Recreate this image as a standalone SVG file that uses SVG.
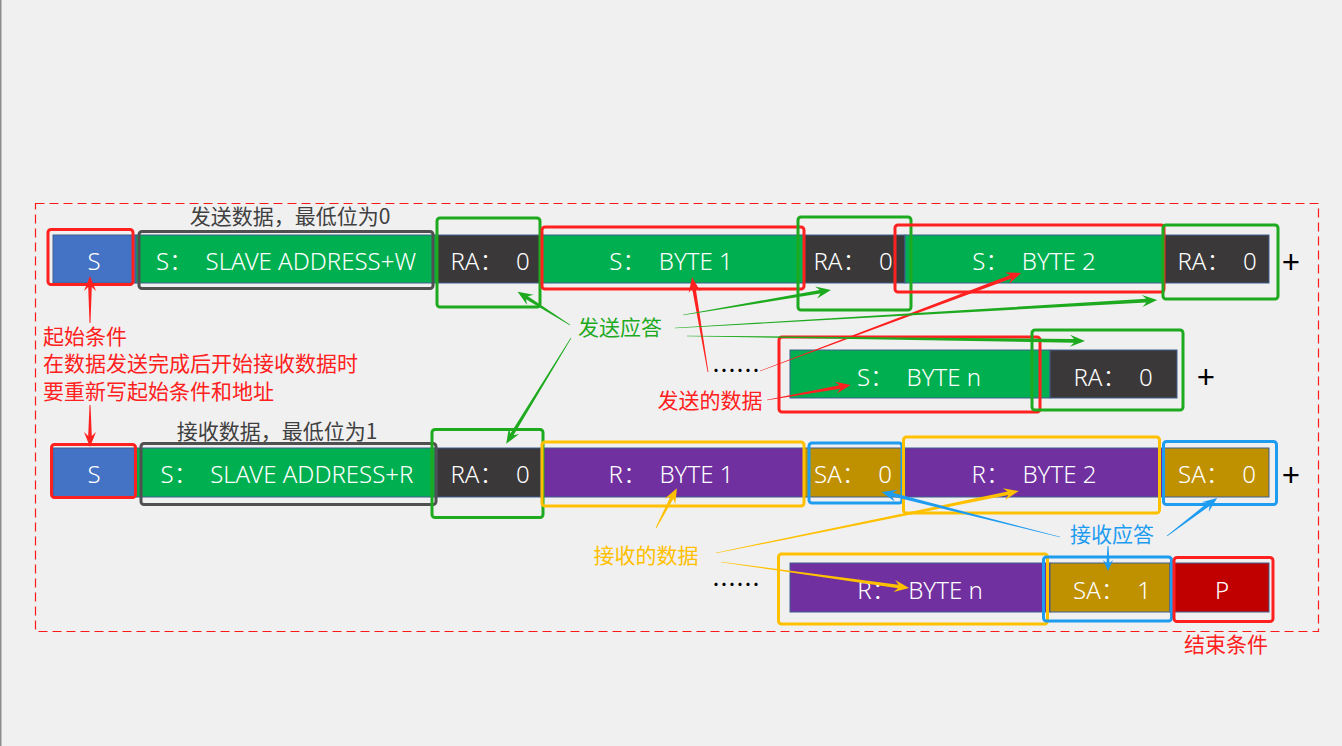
<svg xmlns="http://www.w3.org/2000/svg" width="1342" height="746" viewBox="0 0 1342 746">
<style>
.bt{font-family:"Noto Sans","Noto Sans CJK SC",sans-serif;font-size:24px;fill:#fff;text-anchor:middle;font-weight:300;white-space:pre}
.lb{font-family:"Noto Sans CJK SC","Noto Sans",sans-serif;font-size:21px}
.bar{stroke:#3f5f8f;stroke-width:1}
.hl{fill:none;stroke-width:3}
.red{stroke:#ff2020}.grn{stroke:#1eaa1e}.gry{stroke:#505050}.yel{stroke:#ffc000}.blu{stroke:#1e9cf0}
.plus{font-family:"Noto Sans",sans-serif;font-size:32px;fill:#000;text-anchor:middle}
.dots{font-family:"Noto Sans CJK SC",sans-serif;font-size:24px;fill:#000;text-anchor:middle}
</style>
<rect x="0" y="0" width="1342" height="746" fill="#f0f0f0"/>
<rect x="0" y="0" width="1.5" height="746" fill="#8e8e8e"/>
<rect x="35.5" y="203.5" width="1283" height="428" fill="none" stroke="#ff1a1a" stroke-width="1.2" stroke-dasharray="9,5"/>

<g id="row1">
<g id="n-s1"><rect class="bar" x="53" y="235" width="83" height="48" fill="#4472c4"/><text class="bt" x="94" y="270">S</text></g>
<g id="n-addr-w"><rect class="bar" x="136" y="235" width="301" height="48" fill="#00b050"/><text class="bt" x="286" y="270">S：  SLAVE ADDRESS+W</text></g>
<g id="n-ra1"><rect class="bar" x="437" y="235" width="104" height="48" fill="#3a3838"/><text class="bt" x="490" y="270">RA：  0</text></g>
<g id="n-byte1"><rect class="bar" x="541" y="235" width="263" height="48" fill="#00b050"/><text class="bt" x="671" y="270">S：  BYTE 1</text></g>
<g id="n-ra2"><rect class="bar" x="804" y="235" width="101" height="48" fill="#3a3838"/><text class="bt" x="853" y="270">RA：  0</text></g>
<g id="n-byte2"><rect class="bar" x="905" y="235" width="258" height="48" fill="#00b050"/><text class="bt" x="1034" y="270">S：  BYTE 2</text></g>
<g id="n-ra3"><rect class="bar" x="1163" y="235" width="106" height="48" fill="#3a3838"/><text class="bt" x="1217" y="270">RA：  0</text></g>
<text class="plus" x="1291" y="274">+</text>
</g>

<g id="row1b">
<text class="dots" x="736" y="379">……</text>
<g id="n-byten-s"><rect class="bar" x="790" y="350" width="260" height="48" fill="#00b050"/><text class="bt" x="919" y="386">S：  BYTE n</text></g>
<g id="n-ran"><rect class="bar" x="1050" y="350" width="127" height="48" fill="#3a3838"/><text class="bt" x="1113" y="386">RA：  0</text></g>
<text class="plus" x="1206" y="389">+</text>
</g>

<g id="row2">
<g id="n-s2"><rect class="bar" x="53" y="448" width="83" height="49" fill="#4472c4"/><text class="bt" x="94" y="483">S</text></g>
<g id="n-addr-r"><rect class="bar" x="136" y="448" width="301" height="49" fill="#00b050"/><text class="bt" x="287" y="483">S：  SLAVE ADDRESS+R</text></g>
<g id="n-ra4"><rect class="bar" x="437" y="448" width="104" height="49" fill="#3a3838"/><text class="bt" x="490" y="483">RA：  0</text></g>
<g id="n-rbyte1"><rect class="bar" x="541" y="448" width="263" height="49" fill="#7030a0"/><text class="bt" x="671" y="483">R：  BYTE 1</text></g>
<g id="n-sa1"><rect class="bar" x="804" y="448" width="101" height="49" fill="#bf9000"/><text class="bt" x="853" y="483">SA：  0</text></g>
<g id="n-rbyte2"><rect class="bar" x="905" y="448" width="258" height="49" fill="#7030a0"/><text class="bt" x="1034" y="483">R：  BYTE 2</text></g>
<g id="n-sa2"><rect class="bar" x="1163" y="448" width="106" height="49" fill="#bf9000"/><text class="bt" x="1217" y="483">SA：  0</text></g>
<text class="plus" x="1291" y="487">+</text>
</g>

<g id="row2b">
<text class="dots" x="736" y="593">……</text>
<g id="n-rbyten"><rect class="bar" x="790" y="563" width="260" height="49" fill="#7030a0"/><text class="bt" x="920" y="599">R：  BYTE n</text></g>
<g id="n-sa3"><rect class="bar" x="1050" y="563" width="120" height="49" fill="#bf9000"/><text class="bt" x="1112" y="599">SA：  1</text></g>
<g id="n-p"><rect class="bar" x="1170" y="563" width="99" height="49" fill="#c00000"/><text class="bt" x="1222" y="599">P</text></g>
</g>

<g id="highlights">
<rect class="hl red" x="48" y="229.5" width="85" height="55" rx="3"/>
<rect class="hl gry" x="139" y="231.5" width="294" height="57" rx="3"/>
<rect class="hl grn" x="437" y="218" width="103" height="89" rx="3"/>
<rect class="hl red" x="542" y="227" width="262" height="62" rx="3"/>
<rect class="hl grn" x="798" y="217" width="113" height="93" rx="3"/>
<rect class="hl red" x="895" y="225" width="269" height="67" rx="3"/>
<rect class="hl grn" x="1163" y="225" width="115" height="74" rx="3"/>
<rect class="hl red" x="779" y="337" width="261" height="75" rx="3"/>
<rect class="hl grn" x="1032" y="330" width="151" height="80" rx="3"/>
<rect class="hl red" x="51.5" y="444.5" width="84" height="53" rx="3"/>
<rect class="hl gry" x="141" y="443.5" width="295" height="61" rx="3"/>
<rect class="hl grn" x="432" y="429.5" width="111" height="88" rx="3"/>
<rect class="hl yel" x="542" y="442" width="262" height="64" rx="3"/>
<rect class="hl blu" x="809" y="443" width="93" height="60" rx="3"/>
<rect class="hl yel" x="903.5" y="437" width="256" height="76" rx="3"/>
<rect class="hl blu" x="1163.5" y="441.5" width="113" height="63" rx="3"/>
<rect class="hl yel" x="778.5" y="554" width="269" height="70" rx="3"/>
<rect class="hl blu" x="1043.5" y="557" width="128" height="64" rx="3"/>
<rect class="hl red" x="1174" y="557.5" width="99" height="64" rx="3"/>
</g>

<g id="labels">
<text class="lb" x="290" y="224" fill="#404040" text-anchor="middle">发送数据，最低位为0</text>
<text class="lb" x="277" y="439" fill="#404040" text-anchor="middle">接收数据，最低位为1</text>
<text class="lb" fill="#ff2020"><tspan x="43" y="344">起始条件</tspan><tspan x="43" y="371">在数据发送完成后开始接收数据时</tspan><tspan x="43" y="399">要重新写起始条件和地址</tspan></text>
<text class="lb" x="620" y="335" fill="#1eaa1e" text-anchor="middle">发送应答</text>
<text class="lb" x="710" y="408" fill="#ff2020" text-anchor="middle">发送的数据</text>
<text class="lb" x="646" y="563" fill="#ffc000" text-anchor="middle">接收的数据</text>
<text class="lb" x="1112" y="542" fill="#1e9cf0" text-anchor="middle">接收应答</text>
<text class="lb" x="1226" y="652" fill="#ff2020" text-anchor="middle">结束条件</text>
</g>

<g id="connectors">
<g fill="#ff2020">
<polygon transform="translate(90,323) rotate(-90)" points="0,-0.5 36,-1.8 32,-6 47,0 32,6 36,1.8 0,0.5"/>
<polygon transform="translate(90,405) rotate(90)" points="0,-0.5 31,-1.8 27,-6 42,0 27,6 31,1.8 0,0.5"/>
<polygon transform="translate(708,372) rotate(-99.56)" points="0,-0.4 85,-1.8 81,-6 96,0 81,6 85,1.8 0,0.4"/>
<polygon transform="translate(760,371) rotate(-20.58)" points="0,-0.3 268,-1.8 264,-6 279,0 264,6 268,1.8 0,0.3"/>
<polygon transform="translate(767,400) rotate(-10.12)" points="0,-0.3 74,-1.8 70,-6 85,0 70,6 74,1.8 0,0.3"/>
</g>
<g fill="#1eaa1e">
<polygon transform="translate(570,325) rotate(-147.6)" points="0,-0.4 51,-1.8 47,-6 62,0 47,6 51,1.8 0,0.4"/>
<polygon transform="translate(571,338) rotate(121.5)" points="0,-0.3 113,-1.8 109,-6 124,0 109,6 113,1.8 0,0.3"/>
<polygon transform="translate(683,315) rotate(-9.59)" points="0,-0.3 139,-1.8 135,-6 150,0 135,6 139,1.8 0,0.3"/>
<polygon transform="translate(675,328) rotate(-3.32)" points="0,-0.3 472,-1.8 468,-6 483,0 468,6 472,1.8 0,0.3"/>
<polygon transform="translate(687,336) rotate(0.72)" points="0,-0.3 387,-1.8 383,-6 398,0 383,6 387,1.8 0,0.3"/>
</g>
<g fill="#ffc000">
<polygon transform="translate(656,528) rotate(-62.3)" points="0,-0.4 34,-1.8 30,-6 45,0 30,6 34,1.8 0,0.4"/>
<polygon transform="translate(716,553) rotate(-11.56)" points="0,-0.3 298,-1.8 294,-6 309,0 294,6 298,1.8 0,0.3"/>
<polygon transform="translate(721,562) rotate(7.87)" points="0,-0.3 179,-1.8 175,-6 190,0 175,6 179,1.8 0,0.3"/>
</g>
<g fill="#1e9cf0">
<polygon transform="translate(1060,537) rotate(-165.81)" points="0,-0.3 173,-1.8 169,-6 184,0 169,6 173,1.8 0,0.3"/>
<polygon transform="translate(1167,536) rotate(-37.23)" points="0,-0.4 52,-1.8 48,-6 63,0 48,6 52,1.8 0,0.4"/>
<polygon transform="translate(1108,546) rotate(90)" points="0,-0.5 17,-1.5 14,-5 25,0 14,5 17,1.5 0,0.5"/>
</g>
</g>
</svg>
